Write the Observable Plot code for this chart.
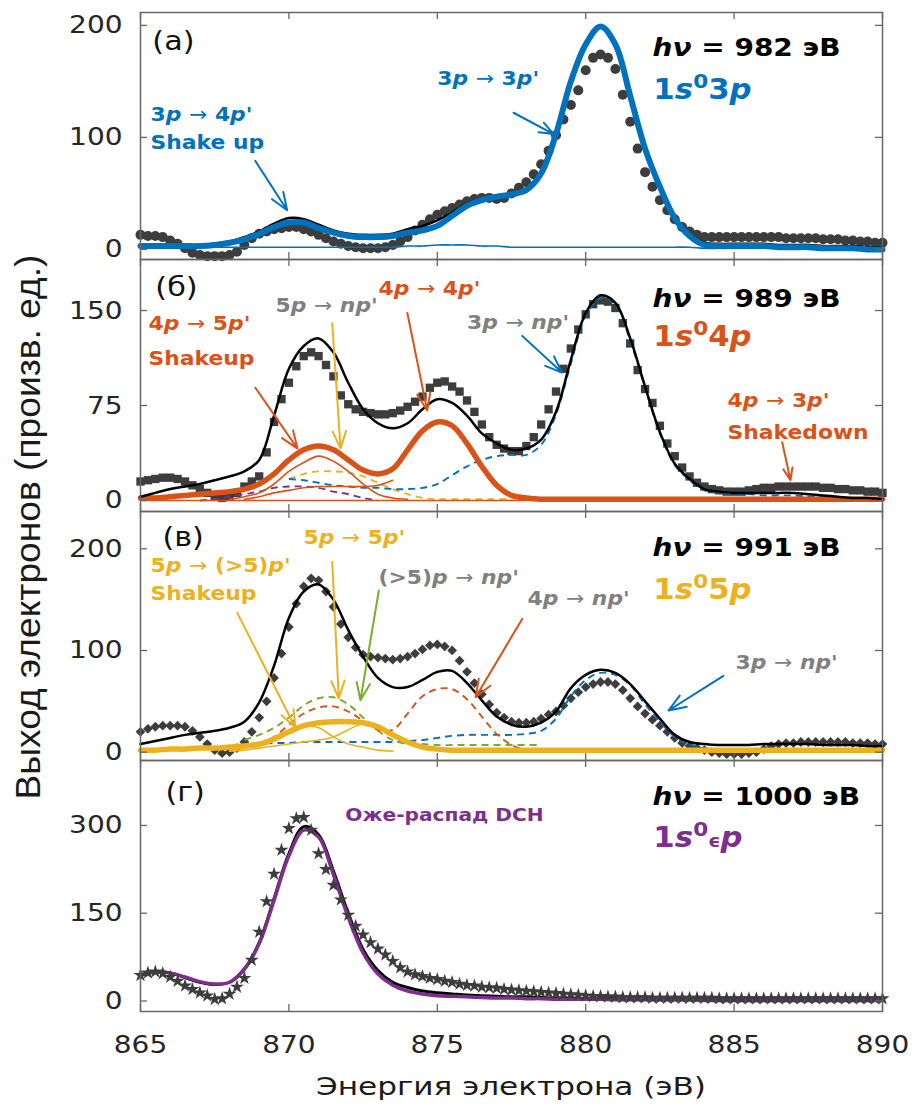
<!DOCTYPE html>
<html>
<head>
<meta charset="utf-8">
<script src="https://cdn.jsdelivr.net/npm/d3@7"></script>
<script src="https://cdn.jsdelivr.net/npm/@observablehq/plot@0.6"></script>
<style>
  body { margin: 0; background: #fff; }
  #fig { position: relative; width: 914px; height: 1110px; background: #fff; overflow: hidden; }
</style>
</head>
<body>
<div id="fig"></div>
<script>
// ---------- energy grids (eV) ----------
const lineE = d3.range(0, 51).map(i => 865 + i * 0.5);   // fitted curves
const markE = d3.range(0, 101).map(i => 865 + i * 0.25); // measured points
const xTicks = [865, 870, 875, 880, 885, 890];

// ---------- (а) hν = 982 eV ----------
const aTicks = [0, 100, 200];
const aMeasured = [13,12,12,11,8,5,1,-3,-5,-6, -6,-6,-5,-2,4,10,14,16,18,19,
  20,20,18,16,13,10,7,5,3,2, 1,1,1,2,4,7,11,17,22,27,
  31,34,37,40,43,45,46,46,45,46, 50,55,60,67,76,88,102,116,129,142,
  160,171,174,171,161,138,114,90,69,56, 44,35,27,20,16,13,11,11,11,11,
  11,11,11,11,11,11,11,10,10,10, 10,10,9,9,9,8,8,7,7,6, 6];
const aFit = [4,4,4,4,4,5,7,11,16,23, 28,27,22,17,14,13,13,14,18,21,
  26,33,41,45,47,49,53,68,103,150, 183,199,183,137,90,56,28,13,6,5,
  5,5,5,4,4,4,3,3,3,2, 2];
const a1s03p = [3,3,3,3,3,4,6,9,14,20, 24,24,19,15,12,11,11,12,15,17,
  21,30,39,44,47,49,53,68,103,150, 183,199,183,137,90,56,28,12,4,3,
  3,3,3,2,2,2,1,1,1,0, 0];
const aBackground = [2,2,2,2,2,2,2,2,2,2, 2,2,2,2,2,2,2,2,3,3,
  4,4,4,3,3,2,2,2,2,2, 2,2,2,2,2,2,2,2,1,1,
  1,1,1,1,1,1,1,1,1,1, 1];

// ---------- (б) hν = 989 eV ----------
const bTicks = [0, 75, 150];
const bMeasured = [15,16,17,18,18,17,15,12,9,6, 3,2,3,6,11,15,19,38,62,80,
  93,106,114,117,114,107,98,83,76,72, 70,69,68,68,69,71,74,78,82,89,
  93,94,90,86,79,70,60,50,44,41, 39,39,43,50,60,72,86,104,120,135,
  147,155,158,157,152,140,124,103,88,77, 59,45,35,26,19,14,11,9,8,7,
  7,7,8,9,10,10,11,11,11,11, 11,11,10,10,9,9,8,8,7,7, 6];
const bFit = [3,6,9,11,13,16,19,23,32,67, 104,122,128,117,93,72,61,57,61,72,
  80,77,67,53,45,40,41,48,70,111, 148,162,156,128,90,54,29,17,9,7,
  6,6,6,6,6,5,4,3,2,2, 1];
const b1s04p = [2,2,3,4,5,6,7,9,13,21, 32,40,43,40,32,24,21,25,40,55,
  62,59,45,27,12,4,2,1,1,1, 1,1,1,1,1,1,1,1,1,1,
  1,1,1,1,1,1,1,1,1,1, 1];
const bShakeupStart = 868, bShakeup = [1,3,6,13,23,30,35,31,23,13,5,2,1];
const bBroadStart = 868.5, bBroad = [1,3,6,8,10,11,11,11,11,12,16];
const bFloorStart = 865, bFloor = [0,0,0,0,0,0,0,0,0,0,0,0,0,0,0,0,0,0,0,0,0,0,0,0,0,0,0];
const b3pStart = 870, b3p = [17,16,14,12,11,10,10,9,9,10, 13,20,27,32,35,36,36,44,68,108,
  146,160,155,126,89,53,28,16,8,6, 5,5,4,4,4,3,3,2,2,2, 1];
const b5pStart = 870, b5p = [17,21,23,23,22,19,14,9,5,2,1,1,1,1,1,1];
const bOtherStart = 867, bOther = [0,1,3,5,7,10,11,11,10,7,5,2,0];

// ---------- (в) hν = 991 eV ----------
const cTicks = [0, 100, 200];
const cMeasured = [20,23,25,26,26,26,25,21,15,8, 2,-1,0,4,10,20,34,50,73,97,
  123,146,163,171,169,158,143,126,113,103, 96,94,93,92,91,92,94,97,101,105,
  106,104,100,90,79,68,57,47,39,34, 30,29,29,30,33,37,40,46,53,59,
  64,67,69,69,67,61,53,45,38,32, 26,20,14,9,6,4,2,0,-1,-2,
  -2,-2,-1,0,3,6,8,9,9,10, 10,10,10,10,10,10,9,9,9,8, 8];
const cFit = [8,11,14,17,19,21,24,30,49,85, 132,158,165,150,120,94,73,64,64,71,
  79,80,68,51,35,27,25,29,40,63, 76,81,78,67,50,33,17,10,8,7,
  7,7,8,8,8,8,7,7,7,6, 6];
const c1s05p = [2,2,3,3,4,4,5,6,8,13, 20,26,29,30,30,29,25,17,10,5,
  3,2,2,2,2,2,2,2,2,2, 2,2,2,2,2,2,2,2,2,2,
  2,2,2,2,2,2,2,2,2,2, 2];
const cShakeupStart = 868, cShakeup = [2,4,6,11,19,25,24,15,8,5,2,1];
const c5pStart = 868, c5p = [1,2,4,6,8,10,12,15,22,28,25,17,10,5,3];
const cHigherStart = 868.5, cHigher = [12,17,24,34,46,53,54,47,34,21,12,8,8,7,7,7,7,7,7,7,7];
const c4pStart = 869, c4p = [8,15,27,38,44,45,40,31,22,22,38,55,62,62,52,35,18,7,2];
const c3pStart = 868, c3p = [6,7,8,9,9,10,10,10,10,10, 10,10,11,12,14,16,17,17,17,17,
  18,21,33,55,71,78,76,66,47,30, 15,8,4,3,2,2,2,2,2,2, 2,2,2,2,2];

// ---------- (г) hν = 1000 eV ----------
const dTicks = [0, 150, 300];
const dMeasured = [44,48,50,47,41,34,26,20,14,9, 3,4,12,24,39,70,118,170,217,258,
  295,312,314,292,252,225,198,173,147,128, 113,100,89,79,68,57,50,45,42,39,
  37,34,32,29,27,26,24,23,22,20, 19,18,17,16,15,14,13,12,11,10,
  9,8,8,7,7,6,6,6,6,5, 5,5,5,5,5,5,5,5,4,4,
  4,4,4,4,4,4,4,4,4,4, 4,4,4,4,4,4,4,4,4,4, 4];
const dFit = [44,49,48,40,32,28,32,55,100,175, 252,298,284,222,150,88,52,32,23,17,
  14,12,10,9,8,7,7,6,5,5, 4,4,4,3,3,3,3,2,2,2,
  2,2,2,2,2,1,1,1,1,1, 1];
const dAuger = [45,50,48,41,33,29,32,54,98,172, 248,292,280,216,143,82,46,27,17,12,
  9,8,7,6,5,5,4,4,3,3, 3,3,2,2,2,2,2,2,1,1,
  1,1,1,1,1,1,1,1,1,1, 1];

// ---------- styling ----------
const W = 914, ML = 140, MR = 32, innerW = W - ML - MR;
const FRAME = "#676767", TL = 7;
const BLUE = "#0072BD", ORANGE = "#D95319", YELLOW = "#EDB120", PURPLE = "#7E2F8E",
      GREEN = "#77AC30", MARK = "#3d3d3d", GREY = "#808080";
const STRETCH = 1.12;

const onGrid = (xs, ys) => ys.map((y, i) => ({x: xs[i], y}));
const fromStart = (start, ys) => ys.map((y, i) => ({x: start + 0.5 * i, y}));
const curve = (data, o) => Plot.line(data, {x: "x", y: "y", curve: "catmull-rom",
  strokeLinecap: "round", strokeLinejoin: "round", ...o});
const dashed = (data, stroke) => curve(data, {stroke, strokeWidth: 1.9, strokeDasharray: "7,5", strokeLinecap: "butt"});
const points = (ys, symbol, r) => Plot.dot(onGrid(markE, ys), {x: "x", y: "y", symbol, r, fill: MARK, stroke: "none"});
const note = (x, y, text, o = {}) => Plot.text([{x, y, text}], {x: "x", y: "y", text: "text",
  textAnchor: "start", lineAnchor: "middle", fontFamily: "DejaVu Sans", fontWeight: "bold", fontSize: 19.5, ...o});
const pointer = (x1, y1, x2, y2, stroke) => Plot.arrow([{x1, y1, x2, y2}],
  {x1: "x1", y1: "y1", x2: "x2", y2: "y2", stroke, strokeWidth: 2, headLength: 14, headAngle: 42});
const tag = (x, y, text) => note(x, y, text, {fontWeight: "normal", fontSize: 27, fill: "#111"});
const energy = (x, y, text) => note(x, y, text, {fontSize: 25, fill: "#000"});
const state = (x, y, text, fill) => note(x, y, text, {fontSize: 27.5, fill});

// ---------- rich text: *italic*, ^superscript^, _small_ ----------
const NS = "http://www.w3.org/2000/svg";
function richText(t) {
  const src = t.textContent;
  if (!/[*^_→]/.test(src)) return;
  while (t.firstChild) t.removeChild(t.firstChild);
  let it = false, sup = false, sm = false, buf = "";
  const put = (s, attrs) => {
    const ts = document.createElementNS(NS, "tspan");
    ts.textContent = s;
    for (const k in attrs) ts.setAttribute(k, attrs[k]);
    t.appendChild(ts);
  };
  const flush = () => {
    if (!buf) return;
    const a = {};
    if (it) a["font-style"] = "italic";
    if (sup) { a["font-size"] = "70%"; a["baseline-shift"] = "super"; }
    if (sm) a["font-size"] = "62%";
    put(buf, a); buf = "";
  };
  for (const ch of src) {
    if (ch === "*") { flush(); it = !it; }
    else if (ch === "^") { flush(); sup = !sup; }
    else if (ch === "_") { flush(); sm = !sm; }
    else if (ch === "→") { flush(); put("→", {"font-weight": "normal"}); }
    else buf += ch;
  }
  flush();
}
function finishText(svg) {
  svg.querySelectorAll('g[aria-label="text"] text').forEach(richText);
  svg.querySelectorAll("text").forEach(t => {
    const tr = t.getAttribute("transform");
    if (tr) t.setAttribute("transform", tr + ` scale(${STRETCH},1)`);
  });
}

const fig = document.getElementById("fig");
function panel({top, height, mt = 0, mb = 0, yDomain, yTicks, marks, xLabels = false}) {
  const innerH = height - mt - mb;
  const svg = Plot.plot({
    width: W, height, marginLeft: ML, marginRight: MR, marginTop: mt, marginBottom: mb,
    style: {background: "none", overflow: "visible", fontFamily: "DejaVu Sans", fontSize: "25px", color: "#262626"},
    x: xLabels ? {domain: [865, 890]} : {domain: [865, 890], axis: null},
    y: {domain: yDomain},
    marks: [
      ...marks,
      Plot.frame({stroke: FRAME, strokeWidth: 1.5}),
      Plot.tickX(xTicks, {x: d => d, insetBottom: innerH - TL, stroke: FRAME, strokeWidth: 1.3}),
      Plot.tickX(xTicks, {x: d => d, insetTop: innerH - TL, stroke: FRAME, strokeWidth: 1.3}),
      Plot.tickY(yTicks, {y: d => d, insetRight: innerW - TL, stroke: FRAME, strokeWidth: 1.3}),
      Plot.tickY(yTicks, {y: d => d, insetLeft: innerW - TL, stroke: FRAME, strokeWidth: 1.3}),
      Plot.axisY({ticks: yTicks, tickSize: 0, tickPadding: 18, label: null, fontSize: 25}),
      ...(xLabels ? [Plot.axisX({ticks: xTicks, tickSize: 0, tickPadding: 24, label: null, fontSize: 25})] : [])
    ]
  });
  svg.style.position = "absolute";
  svg.style.left = "0px";
  svg.style.top = top + "px";
  finishText(svg);
  fig.appendChild(svg);
}

// (а)
panel({top: 0, height: 259, mt: 12, yDomain: [-9, 211.5], yTicks: aTicks, marks: [
  points(aMeasured, "circle", 5),
  curve(onGrid(lineE, aFit), {stroke: "#000", strokeWidth: 2.5}),
  curve(onGrid(lineE, aBackground), {stroke: BLUE, strokeWidth: 1.6}),
  curve(onGrid(lineE, a1s03p), {stroke: BLUE, strokeWidth: 6}),
  tag(865.4, 186, "(а)"),
  energy(882.25, 180, "*hν* = 982 эВ"),
  state(882.28, 142, "1*s*^0^3*p*", BLUE),
  note(875.0, 152, "3*p* → 3*p*'", {fill: BLUE}),
  note(865.34, 120, "3*p* → 4*p*'", {fill: BLUE}),
  note(865.34, 95, "Shake up", {fill: BLUE}),
  pointer(868.87, 79, 869.94, 35, BLUE),
  pointer(877.57, 122, 878.92, 103, BLUE)
]});

// (б)
panel({top: 259, height: 252, yDomain: [-8.7, 190.3], yTicks: bTicks, marks: [
  points(bMeasured, "square", 4.7),
  dashed(fromStart(bOtherStart, bOther), PURPLE),
  dashed(fromStart(b5pStart, b5p), YELLOW),
  dashed(fromStart(b3pStart, b3p), BLUE),
  curve(fromStart(bFloorStart, bFloor), {stroke: ORANGE, strokeWidth: 1.6}),
  curve(fromStart(bBroadStart, bBroad), {stroke: ORANGE, strokeWidth: 1.6}),
  curve(fromStart(bShakeupStart, bShakeup), {stroke: ORANGE, strokeWidth: 1.6}),
  curve(onGrid(lineE, b1s04p), {stroke: ORANGE, strokeWidth: 5.5}),
  curve(onGrid(lineE, bFit), {stroke: "#000", strokeWidth: 2.5}),
  tag(865.5, 168, "(б)"),
  energy(882.25, 159.5, "*hν* = 989 эВ"),
  state(882.28, 128.7, "1*s*^0^4*p*", ORANGE),
  note(865.27, 139.7, "4*p* → 5*p*'", {fill: ORANGE}),
  note(865.27, 112, "Shakeup", {fill: ORANGE}),
  pointer(868.87, 89, 870.29, 41, ORANGE),
  note(869.55, 154, "5*p* → *np*'", {fill: GREY}),
  pointer(871.46, 140, 871.74, 41, YELLOW),
  note(873.02, 167, "4*p* → 4*p*'", {fill: ORANGE}),
  pointer(873.99, 148, 874.66, 71, ORANGE),
  note(876.0, 140.5, "3*p* → *np*'", {fill: GREY}),
  pointer(877.86, 130, 879.2, 101, BLUE),
  note(884.78, 79, "4*p* → 3*p*'", {fill: ORANGE}),
  note(884.78, 53.7, "Shakedown", {fill: ORANGE}),
  pointer(886.62, 46, 886.9, 16, ORANGE)
]});

// (в)
panel({top: 511, height: 249, yDomain: [-8.2, 236.7], yTicks: cTicks, marks: [
  points(cMeasured, "diamond2", 4.4),
  dashed(fromStart(c3pStart, c3p), BLUE),
  dashed(fromStart(cHigherStart, cHigher), GREEN),
  dashed(fromStart(c4pStart, c4p), ORANGE),
  curve(fromStart(cShakeupStart, cShakeup), {stroke: YELLOW, strokeWidth: 1.6}),
  curve(fromStart(c5pStart, c5p), {stroke: YELLOW, strokeWidth: 1.6}),
  curve(onGrid(lineE, c1s05p), {stroke: YELLOW, strokeWidth: 5.5}),
  curve(onGrid(lineE, cFit), {stroke: "#000", strokeWidth: 2.5}),
  tag(865.74, 211, "(в)"),
  energy(882.25, 201, "*hν* = 991 эВ"),
  state(882.28, 159, "1*s*^0^5*p*", YELLOW),
  note(870.49, 211, "5*p* → 5*p*'", {fill: YELLOW}),
  note(865.34, 183.5, "5*p* → (>5)*p*'", {fill: YELLOW}),
  note(865.34, 156, "Shakeup", {fill: YELLOW}),
  pointer(868.26, 137, 870.22, 24, YELLOW),
  pointer(871.46, 187, 871.68, 53, YELLOW),
  pointer(873.03, 159, 872.41, 51, GREEN),
  note(873.02, 172, "(>5)*p* → *np*'", {fill: GREY}),
  note(878.04, 151, "4*p* → *np*'", {fill: GREY}),
  pointer(877.86, 131, 876.29, 54, ORANGE),
  note(885.05, 88, "3*p* → *np*'", {fill: GREY}),
  pointer(884.64, 75, 882.79, 41, BLUE)
]});

// (г)
panel({top: 760, height: 350, mb: 99, yDomain: [-18, 411], yTicks: dTicks, xLabels: true, marks: [
  curve(onGrid(lineE, dFit), {stroke: "#000", strokeWidth: 3}),
  curve(onGrid(lineE, dAuger), {stroke: PURPLE, strokeWidth: 3.5}),
  points(dMeasured, "star", 4.4),
  tag(865.84, 357, "(г)"),
  note(871.9, 317, "Оже-распад DCH", {fill: PURPLE, fontSize: 18}),
  energy(882.25, 348, "*hν* = 1000 эВ"),
  state(882.28, 278, "1*s*^0^_ϵ_*p*", PURPLE)
]});

// shared axis titles
const over = d3.select(fig).append("svg")
  .attr("width", W).attr("height", 1110)
  .style("position", "absolute").style("left", "0px").style("top", "0px")
  .style("pointer-events", "none");
over.append("text")
  .attr("transform", "translate(27,527) rotate(-90)")
  .attr("text-anchor", "middle").attr("dominant-baseline", "central")
  .attr("font-family", "Liberation Sans").attr("font-size", 35)
  .attr("textLength", 545).attr("lengthAdjust", "spacingAndGlyphs")
  .attr("fill", "#1a1a1a")
  .text("Выход электронов (произв. ед.)");
over.append("text")
  .attr("x", 511).attr("y", 1086)
  .attr("text-anchor", "middle").attr("dominant-baseline", "central")
  .attr("font-family", "DejaVu Sans").attr("font-size", 25)
  .attr("textLength", 390).attr("lengthAdjust", "spacingAndGlyphs")
  .attr("fill", "#1a1a1a")
  .text("Энергия электрона (эВ)");
</script>
</body>
</html>
